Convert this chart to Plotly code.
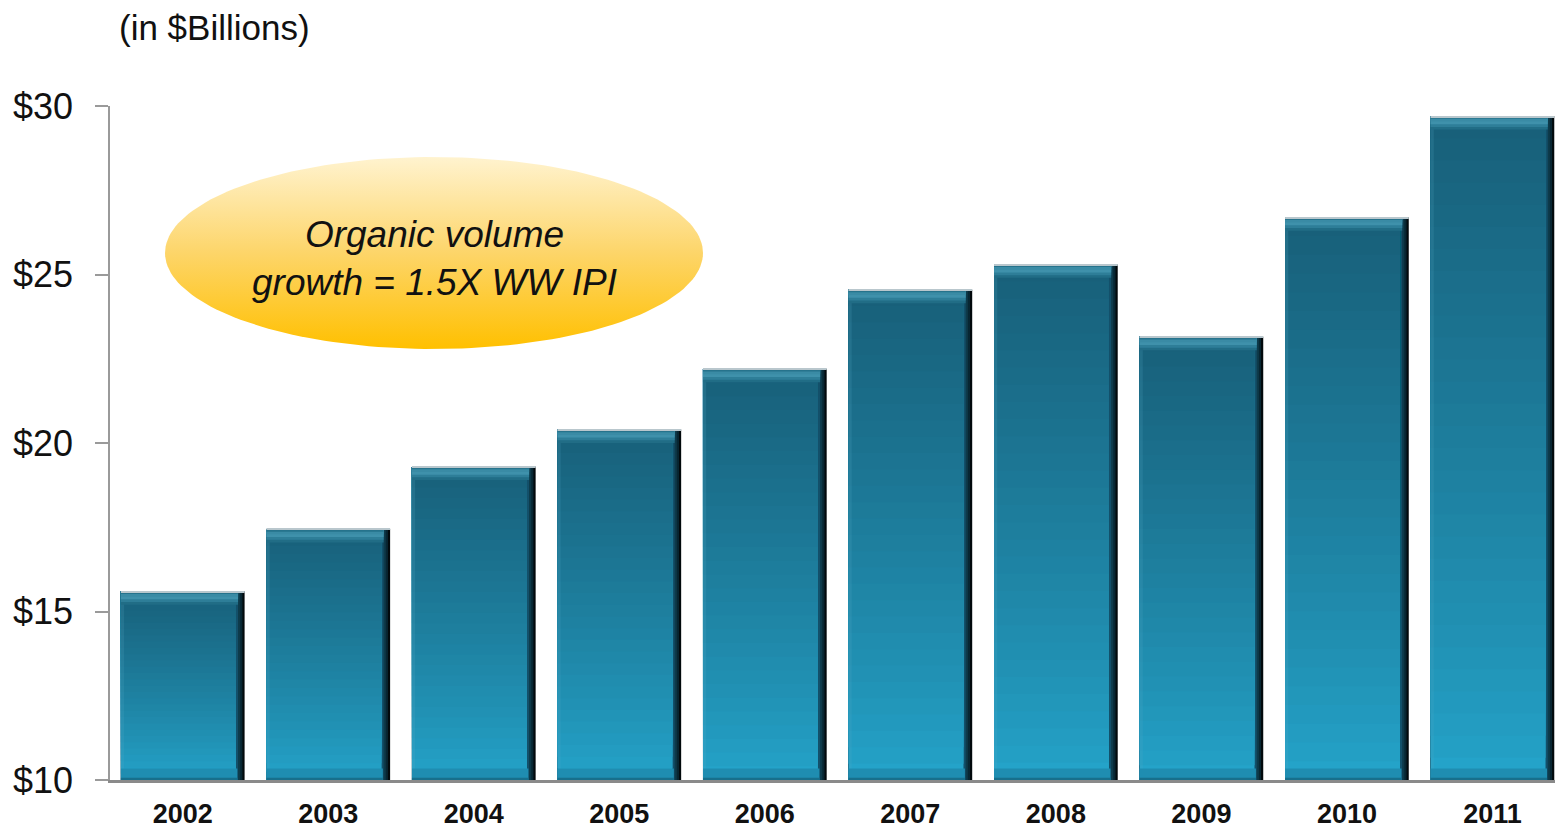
import numpy as np
import plotly.graph_objects as go

# Annual revenue, $ billions
years = ["2002", "2003", "2004", "2005", "2006", "2007", "2008", "2009", "2010", "2011"]
revenue = [15.6, 17.45, 19.3, 20.4, 22.2, 24.55, 25.3, 23.15, 26.7, 29.7]

y_tick_values = [10, 15, 20, 25, 30]
y_tick_labels = ["$10", "$15", "$20", "$25", "$30"]

Y_MIN, Y_MAX = 10, 30
W, H = 1555, 830
M_L, M_R, M_T, M_B = 110, 0, 106, 50
PLOT_W, PLOT_H = W - M_L - M_R, H - M_T - M_B

BAR_W = 0.85
LEFT = -BAR_W / 2
BODY_W = 0.79

fig = go.Figure()


def add_layer(heights, bases, color, width, offset=LEFT):
    fig.add_trace(go.Bar(
        x=years, y=heights, base=bases, width=width, offset=offset,
        marker=dict(color=color, line=dict(width=0)),
        hoverinfo="skip", showlegend=False,
    ))


def mix(c1, c2, t):
    a = [int(c1[i:i + 2], 16) for i in (1, 3, 5)]
    b = [int(c2[i:i + 2], 16) for i in (1, 3, 5)]
    return "#" + "".join(f"{round(a[j] + (b[j] - a[j]) * t):02x}" for j in range(3))


full_h = [v - Y_MIN for v in revenue]

# dark right-hand shadow of each bevelled bar
for w, c in [(0.850, "#02090c"), (0.835, "#082632"), (0.820, "#0e3a4a"), (0.805, "#13506a")]:
    add_layer(full_h, Y_MIN, c, w)

# body: vertical gradient, light at the base to dark at the top
N = 30
BOTTOM_C, TOP_C = "#24a3c9", "#18607a"
for k in range(N):
    bases = [Y_MIN + (v - Y_MIN) * k / N for v in revenue]
    heights = [v - b for v, b in zip(revenue, bases)]
    t = (k / (N - 1)) ** 0.85
    add_layer(heights, bases, mix(BOTTOM_C, TOP_C, t), BODY_W)

# slightly lighter left edge
add_layer(full_h, Y_MIN, "rgba(90,170,200,0.18)", 0.022)

# bottom bevel
add_layer([0.34] * len(years), Y_MIN, "#1f8db1", BODY_W + 0.01)
add_layer([0.07] * len(years), Y_MIN, "#176f8c", BODY_W + 0.01)

# top bevel highlight band
band = [("#216d86", 0.40), ("#2e7e98", 0.32), ("#3f91ab", 0.24), ("#3a8ba5", 0.16), ("#26738c", 0.08)]
for c, d in band:
    add_layer([d] * len(years), [v - d for v in revenue], c, BODY_W + 0.015)
add_layer([0.03] * len(years), [v - 0.03 for v in revenue], "#b9c7cd", BAR_W)

# callout ellipse on a pixel-based overlay
px_x0, px_x1 = M_L, W - M_R
py0, py1 = M_B, H - M_T
cx, cy, rx, ry = 434, H - 253, 269, 96
th = np.linspace(0, 2 * np.pi, 181)
fig.add_trace(go.Scatter(
    x=cx + rx * np.cos(th), y=cy + ry * np.sin(th),
    xaxis="x2", yaxis="y2", mode="lines", fill="toself",
    line=dict(width=0, color="rgba(0,0,0,0)"),
    fillgradient=dict(type="vertical", start=cy - ry, stop=cy + ry,
                      colorscale=[[0, "#ffc000"], [0.5, "#fdd569"], [1, "#fff3cf"]]),
    hoverinfo="skip", showlegend=False,
))

fig.add_annotation(
    x=cx, y=cy - 5, xref="x2", yref="y2", showarrow=False,
    text="<i>Organic volume<br>growth = 1.5X WW IPI</i>",
    font=dict(family="Liberation Sans, Arial, sans-serif", size=37, color="#111111"),
    align="center",
)

fig.add_annotation(
    x=(117 - M_L) / PLOT_W, y=(H - 28 - M_B) / PLOT_H,
    xref="paper", yref="paper", xanchor="left", yanchor="middle",
    showarrow=False, text="(in $Billions)",
    font=dict(family="Liberation Sans, Arial, sans-serif", size=35, color="#111111"),
)

fig.update_layout(
    width=W, height=H,
    margin=dict(l=M_L, r=M_R, t=M_T, b=M_B, pad=0, autoexpand=False),
    paper_bgcolor="white", plot_bgcolor="white",
    barmode="overlay",
    xaxis=dict(
        type="category", range=[-0.5, 9.43], automargin=False,
        showgrid=False, zeroline=False,
        showline=True, linecolor="#8a8a8a", linewidth=2.5,
        ticks="", ticklabelstandoff=8,
        tickfont=dict(family="Liberation Sans, Arial, sans-serif",
                      size=27, color="#111111", weight="bold"),
    ),
    yaxis=dict(
        range=[Y_MIN, Y_MAX], tickvals=y_tick_values, ticktext=y_tick_labels,
        automargin=False, showgrid=False, zeroline=False,
        showline=True, linecolor="#9a9a9a", linewidth=1.5,
        ticks="outside", ticklen=13, tickwidth=1.5, tickcolor="#9a9a9a",
        ticklabelstandoff=15,
        tickfont=dict(family="Liberation Sans, Arial, sans-serif", size=36, color="#111111"),
    ),
    xaxis2=dict(range=[px_x0, px_x1], overlaying="x", anchor="y2", visible=False),
    yaxis2=dict(range=[py0, py1], overlaying="y", anchor="x2", visible=False),
)

fig.write_html("out.html")
